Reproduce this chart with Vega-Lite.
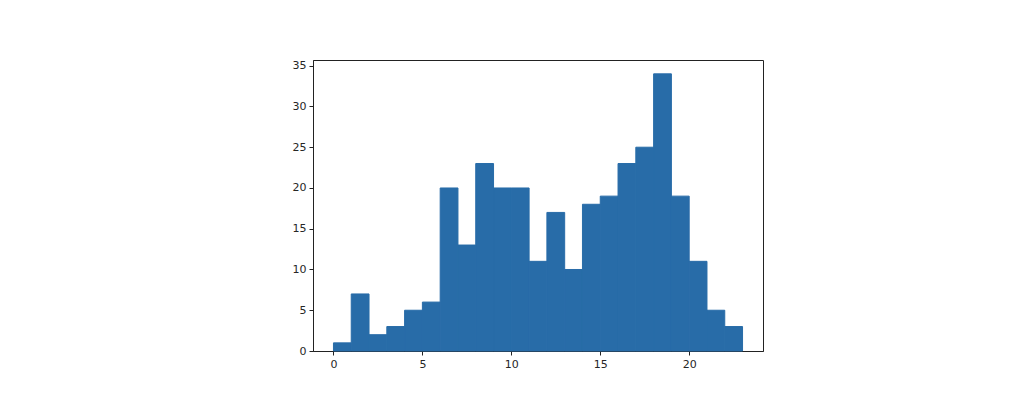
{
  "$schema": "https://vega.github.io/schema/vega-lite/v6.json",
  "autosize": {"type": "none"},
  "width": 450,
  "height": 291,
  "padding": {"left": 313, "top": 60, "right": 261, "bottom": 64},
  "background": "white",
  "config": {
    "view": {"stroke": "#222222", "strokeWidth": 1},
    "axis": {
      "labelFont": "DejaVu Sans",
      "labelFontSize": 11,
      "labelColor": "#262626",
      "tickColor": "#222222",
      "tickSize": 4,
      "domainColor": "#222222",
      "grid": false,
      "title": null,
      "labelPadding": 3
    }
  },
  "data": {
    "values": [
      {"start": 0, "end": 1, "count": 1},
      {"start": 1, "end": 2, "count": 7},
      {"start": 2, "end": 3, "count": 2},
      {"start": 3, "end": 4, "count": 3},
      {"start": 4, "end": 5, "count": 5},
      {"start": 5, "end": 6, "count": 6},
      {"start": 6, "end": 7, "count": 20},
      {"start": 7, "end": 8, "count": 13},
      {"start": 8, "end": 9, "count": 23},
      {"start": 9, "end": 10, "count": 20},
      {"start": 10, "end": 11, "count": 20},
      {"start": 11, "end": 12, "count": 11},
      {"start": 12, "end": 13, "count": 17},
      {"start": 13, "end": 14, "count": 10},
      {"start": 14, "end": 15, "count": 18},
      {"start": 15, "end": 16, "count": 19},
      {"start": 16, "end": 17, "count": 23},
      {"start": 17, "end": 18, "count": 25},
      {"start": 18, "end": 19, "count": 34},
      {"start": 19, "end": 20, "count": 19},
      {"start": 20, "end": 21, "count": 11},
      {"start": 21, "end": 22, "count": 5},
      {"start": 22, "end": 23, "count": 3}
    ]
  },
  "mark": {"type": "rect", "color": "#286ca8", "stroke": "#286ca8", "strokeWidth": 1, "strokeOpacity": 1},
  "encoding": {
    "x": {
      "field": "start",
      "type": "quantitative",
      "scale": {"domain": [-1.15, 24.15], "nice": false, "zero": false},
      "axis": {"values": [0, 5, 10, 15, 20], "format": "d"}
    },
    "x2": {"field": "end"},
    "y": {
      "field": "count",
      "type": "quantitative",
      "scale": {"domain": [0, 35.7], "nice": false},
      "axis": {"values": [0, 5, 10, 15, 20, 25, 30, 35], "format": "d"}
    }
  }
}
